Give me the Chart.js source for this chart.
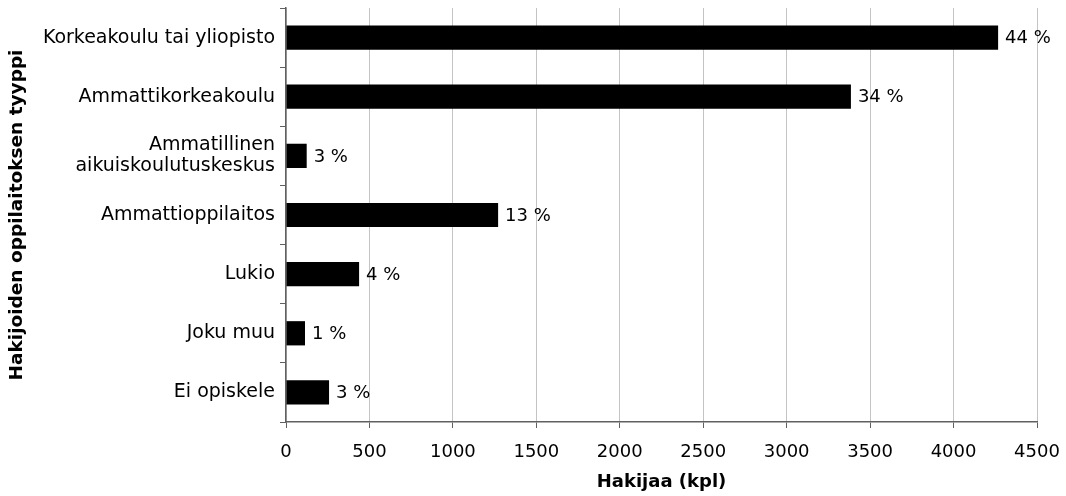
<!DOCTYPE html>
<html>
<head>
<meta charset="utf-8">
<script src="https://cdn.jsdelivr.net/npm/chart.js@4"></script>
<style>
  body { margin: 0; background: #fff; }
  canvas { display: block; }
</style>
</head>
<body>
<canvas id="hakijatChart" width="1066" height="496"></canvas>
<script>
// Oppilaitostyypit ja hakijamäärät
var categories = [
    'Korkeakoulu tai yliopisto',
    'Ammattikorkeakoulu',
    ['Ammatillinen', 'aikuiskoulutuskeskus'],
    'Ammattioppilaitos',
    'Lukio',
    'Joku muu',
    'Ei opiskele'
];
var applicants = [4267, 3385, 124, 1271, 438, 114, 258];
var shareLabels = ['44 %', '34 %', '3 %', '13 %', '4 %', '1 %', '3 %'];
var xTicks = [0, 500, 1000, 1500, 2000, 2500, 3000, 3500, 4000, 4500];

var FONT = 'DejaVu Sans, Verdana, sans-serif';

// Prosenttiluvut palkkien perään
var shareLabelPlugin = {
    id: 'shareLabels',
    afterDatasetsDraw: function(chart) {
        var ctx = chart.ctx;
        var meta = chart.getDatasetMeta(0);
        ctx.save();
        ctx.font = '18px ' + FONT;
        ctx.fillStyle = '#000';
        ctx.textAlign = 'left';
        ctx.textBaseline = 'middle';
        meta.data.forEach(function(bar, i) {
            ctx.fillText(shareLabels[i], bar.x + 7, bar.y + 1);
        });
        ctx.restore();
    }
};

document.addEventListener('DOMContentLoaded', function() {
    var ctx = document.getElementById('hakijatChart').getContext('2d');

    new Chart(ctx, {
        type: 'bar',
        data: {
            labels: categories,
            datasets: [{
                label: 'Hakijaa',
                data: applicants,
                backgroundColor: '#000',
                borderWidth: 0,
                barPercentage: 0.41,
                categoryPercentage: 1.0
            }]
        },
        options: {
            indexAxis: 'y',
            responsive: false,
            animation: false,
            layout: {
                padding: { top: 8, right: 29, left: 0, bottom: 0 }
            },
            plugins: {
                legend: { display: false },
                tooltip: { enabled: false }
            },
            scales: {
                x: {
                    min: 0,
                    max: 4500,
                    afterBuildTicks: function(scale) {
                        scale.ticks = xTicks.map(function(v) { return { value: v }; });
                    },
                    afterFit: function(scale) {
                        scale.height = 74;
                        scale.paddingLeft = 0;
                        scale.paddingRight = 0;
                    },
                    grid: {
                        color: '#c4c4c4',
                        tickColor: '#606060',
                        tickLength: 6,
                        lineWidth: 1
                    },
                    border: { color: '#606060', width: 1.5 },
                    ticks: {
                        color: '#000',
                        padding: 14,
                        font: { family: FONT, size: 18 },
                        callback: function(value) { return String(value); }
                    },
                    title: {
                        display: true,
                        text: 'Hakijaa (kpl)',
                        color: '#000',
                        padding: { top: 0, bottom: 3 },
                        font: { family: FONT, size: 18, weight: 'bold' }
                    }
                },
                y: {
                    afterFit: function(scale) {
                        scale.width = 286;
                        scale.paddingTop = 0;
                        scale.paddingBottom = 0;
                    },
                    grid: {
                        offset: true,
                        drawOnChartArea: false,
                        tickColor: '#606060',
                        tickLength: 6
                    },
                    border: { color: '#606060', width: 1.5 },
                    ticks: {
                        color: '#000',
                        padding: 5,
                        font: { family: FONT, size: 19, lineHeight: 1.1 }
                    },
                    title: {
                        display: true,
                        text: 'Hakijoiden oppilaitoksen tyyppi',
                        color: '#000',
                        padding: { top: 6, bottom: 0 },
                        font: { family: FONT, size: 18.5, weight: 'bold' }
                    }
                }
            }
        },
        plugins: [shareLabelPlugin]
    });
});
</script>
</body>
</html>
